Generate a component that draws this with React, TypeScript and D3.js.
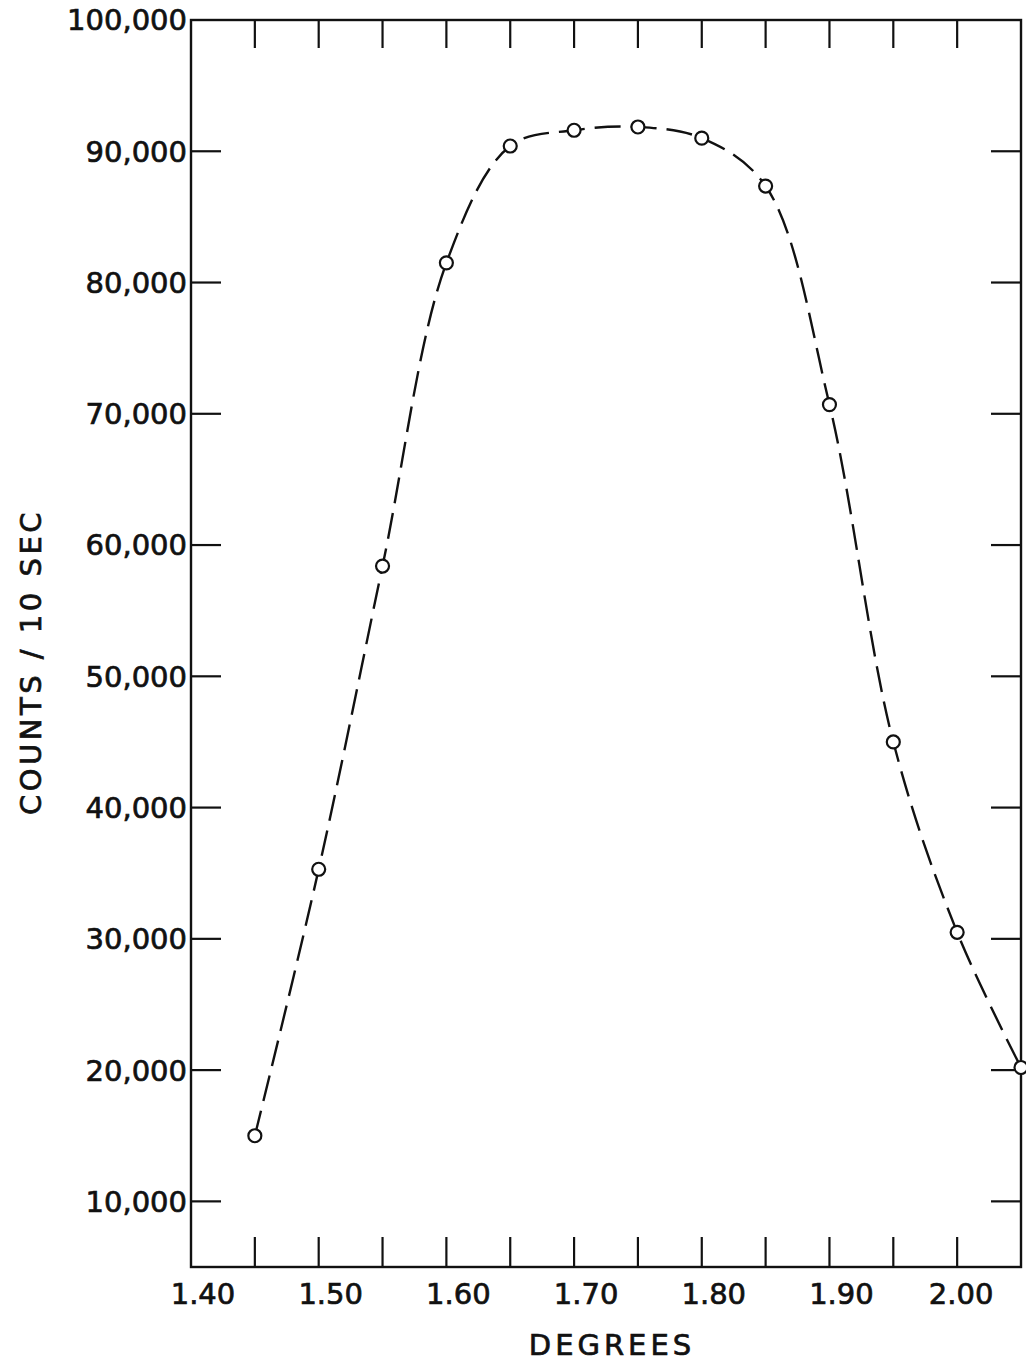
import React from 'react';
import * as d3 from 'd3';

// readings
const degrees = [1.45, 1.5, 1.55, 1.6, 1.65, 1.7, 1.75, 1.8, 1.85, 1.9, 1.95, 2.0, 2.05];
const counts = [15000, 35300, 58400, 81500, 90400, 91600, 91850, 91000, 87350, 70700, 45000, 30500, 20200];

const xTickMarks = [1.45, 1.5, 1.55, 1.6, 1.65, 1.7, 1.75, 1.8, 1.85, 1.9, 1.95, 2.0];
const xTickLabels = [1.4, 1.5, 1.6, 1.7, 1.8, 1.9, 2.0];
const yTickMarks = [10000, 20000, 30000, 40000, 50000, 60000, 70000, 80000, 90000];
const yTickLabels = [10000, 20000, 30000, 40000, 50000, 60000, 70000, 80000, 90000, 100000];

const W = 1026;
const H = 1364;
const margin = { top: 20, right: 5, bottom: 97, left: 191 };
const font = "'DejaVu Sans', sans-serif";
const ink = '#111';

const textStyle = {
  fontFamily: font,
  fontSize: 29,
  fill: ink,
  stroke: ink,
  strokeWidth: 0.7,
};

const App = () => {
  const x = d3.scaleLinear()
    .domain([1.4, 2.05])
    .range([margin.left, W - margin.right]);

  const y = d3.scaleLinear()
    .domain([5000, 100000])
    .range([H - margin.bottom, margin.top]);

  const line = d3.line<number>()
    .x((d, i) => x(degrees[i]))
    .y(d => y(d))
    .curve(d3.curveCatmullRom.alpha(0.5));

  const [x0, x1] = x.range();
  const [y0, y1] = y.range();
  const tick = 30;

  return (
    <div style={{ position: 'absolute', left: 0, top: 0 }}>
      <svg width={W} height={H} style={{ display: 'block', background: '#fff' }}>
        {/* frame */}
        <rect x={x0} y={y1} width={x1 - x0} height={y0 - y1} fill="none" stroke={ink} strokeWidth={2.4} />

        {/* bottom and top ticks */}
        {xTickMarks.map(v => (
          <g key={'xt' + v}>
            <line x1={x(v)} x2={x(v)} y1={y0} y2={y0 - tick} stroke={ink} strokeWidth={2.2} />
            <line x1={x(v)} x2={x(v)} y1={y1} y2={y1 + tick - 2} stroke={ink} strokeWidth={2.2} />
          </g>
        ))}

        {/* left and right ticks */}
        {yTickMarks.map(v => (
          <g key={'yt' + v}>
            <line x1={x0} x2={x0 + tick} y1={y(v)} y2={y(v)} stroke={ink} strokeWidth={2.2} />
            <line x1={x1} x2={x1 - tick} y1={y(v)} y2={y(v)} stroke={ink} strokeWidth={2.2} />
          </g>
        ))}

        {/* tick labels */}
        {xTickLabels.map(v => {
          const s = d3.format('.2f')(v);
          return (
            <text key={'xl' + v} x={x(v) + (s[0] === '1' ? 12 : 4)} y={y0 + 37}
              textAnchor="middle" style={textStyle}>
              {s}
            </text>
          );
        })}
        {yTickLabels.map(v => (
          <text key={'yl' + v} x={x0 - 4} y={y(v)} dy="0.36em"
            textAnchor="end" style={textStyle}>
            {d3.format(',')(v)}
          </text>
        ))}

        {/* axis titles */}
        <text x={612} y={1355} textAnchor="middle" style={{ ...textStyle, letterSpacing: 4 }}>
          DEGREES
        </text>
        <text transform="translate(41,662) rotate(-90)" textAnchor="middle"
          style={{ ...textStyle, letterSpacing: 3.5 }}>
          COUNTS  /  10  SEC
        </text>

        {/* dashed curve */}
        <path d={line(counts) || ''} fill="none" stroke={ink} strokeWidth={2.4}
          strokeDasharray="26 10" />

        {/* points */}
        {counts.map((c, i) => (
          <circle key={'p' + i} cx={x(degrees[i])} cy={y(c)} r={6.5}
            fill="#fff" stroke={ink} strokeWidth={2.2} />
        ))}
      </svg>
    </div>
  );
};

export default App;
